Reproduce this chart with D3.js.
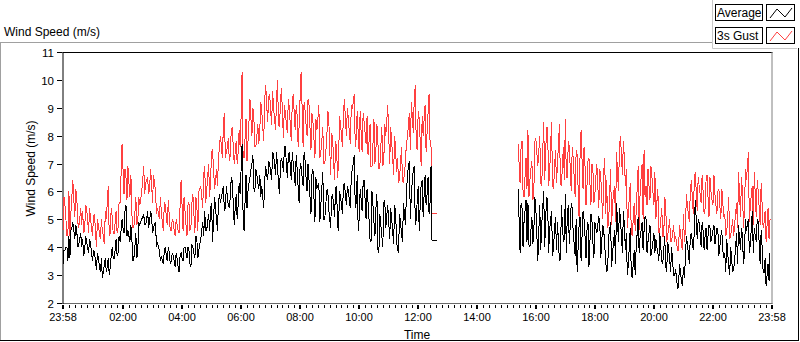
<!DOCTYPE html>
<html><head><meta charset="utf-8">
<script src="https://cdn.jsdelivr.net/npm/d3@7"></script>
<style>body{margin:0;background:#fff}svg{display:block}text{font-family:"Liberation Sans",Arial,sans-serif;fill:#000}</style>
</head><body><svg id="c" width="800" height="342"></svg>
<script>
// ---- data (minutes after 23:58, sampled every 2 min) ----
const stepMin = 2;
const seg1Start = 0;
const tailStart = 750;
const seg2Start = 925;
const gustSeg1 = [
 4.6,5.8,5.5,5.0,4.4,4.5,6.0,4.4,5.2,5.8, 6.4,5.7,5.1,6.1,5.8,4.9,4.7,5.0,5.4,4.8,
 5.3,4.5,4.6,5.5,5.4,5.0,4.5,5.4,5.0,4.7, 4.4,5.1,5.2,4.6,4.0,5.0,4.8,4.5,4.3,5.0,
 4.6,4.4,4.1,5.3,5.0,5.6,6.2,4.4,4.5,5.4, 5.1,4.5,4.5,4.9,5.3,4.5,4.7,5.6,5.6,6.6,
 7.7,6.8,5.9,6.8,6.5,5.7,6.9,6.3,5.8,6.6, 5.2,4.7,4.7,5.2,5.8,4.8,4.9,5.8,5.5,5.7,
 6.0,6.4,6.9,5.9,6.3,6.4,6.5,5.9,6.1,6.8, 6.3,5.6,6.6,6.3,6.0,5.2,5.4,5.2,5.0,5.8,
 5.2,4.9,4.6,5.6,5.5,5.1,4.8,5.7,5.1,4.6, 4.6,5.0,4.9,4.6,4.4,5.0,4.8,4.6,4.5,5.5,
 6.4,5.5,4.6,5.8,5.3,4.8,4.4,5.5,5.6,4.6, 4.7,5.6,5.9,5.2,4.5,5.8,5.5,4.6,6.0,6.1,
 6.2,5.8,5.4,6.6,6.9,5.6,6.0,6.5,7.0,5.8, 6.4,7.4,7.5,6.8,6.1,6.4,6.8,6.2,7.2,7.6,
 8.0,7.6,7.2,8.4,8.8,7.2,7.4,7.6,7.9,7.1, 7.3,8.2,8.3,7.6,7.0,7.4,7.8,7.0,7.4,8.2,
 7.6,8.7,10.3,7.3,7.2,7.9,8.6,7.1,7.8,8.5, 9.3,8.6,8.0,9.0,8.6,7.6,7.6,8.0,8.4,7.7,
 8.2,9.2,8.9,8.3,7.8,9.3,9.8,9.1,8.5,9.4, 9.5,8.9,8.4,9.6,9.0,8.6,8.2,9.3,10.0,8.4,
 8.3,9.2,9.7,8.8,7.9,9.1,8.8,8.4,8.1,9.3, 9.0,8.4,7.8,9.2,9.5,8.8,8.2,9.1,8.7,7.6,
 8.4,9.4,10.3,9.0,7.6,9.2,8.9,8.4,8.0,9.3, 9.1,8.3,7.5,8.8,8.5,7.9,7.2,8.6,8.2,8.6,
 9.1,7.2,7.4,7.8,8.3,7.0,7.0,7.4,7.8,8.9, 8.7,7.6,6.6,8.1,7.9,7.1,6.4,7.8,7.6,6.5,
 7.0,8.7,8.4,8.0,7.6,8.8,9.3,8.6,8.0,9.0, 8.6,8.1,7.7,9.1,9.0,9.2,9.5,7.6,7.9,8.9,
 8.1,7.4,8.9,8.1,7.4,8.8,8.5,8.1,7.7,8.7, 7.3,7.8,8.4,6.9,6.9,7.7,8.6,7.0,7.5,8.4,
 7.8,6.8,6.9,7.6,8.3,6.9,7.1,8.4,8.0,8.5, 9.1,8.0,7.0,8.3,7.8,7.2,6.6,8.0,7.5,6.7,
 7.2,6.3,6.5,7.0,7.6,6.4,6.3,6.7,7.0,7.8, 7.9,8.4,8.8,7.5,9.2,8.7,8.1,9.4,9.8,7.6,
 7.5,8.9,8.6,7.8,6.9,8.7,8.0,8.6,9.1,7.4, 8.1,8.8,9.5,7.8,7.6];
const avgSeg1 = [
 3.4,3.9,3.9,4.0,4.0,3.5,4.4,3.6,4.6,4.7, 4.9,4.6,4.3,4.8,4.6,4.0,4.1,4.3,4.5,4.0,
 4.3,3.7,3.9,4.4,4.2,4.0,3.8,4.3,4.1,3.8, 3.5,3.9,3.8,3.5,3.2,3.8,3.6,3.3,3.1,3.6,
 2.9,3.1,3.4,3.6,3.1,3.3,3.6,3.0,3.3,3.7, 4.0,3.6,3.6,3.9,4.3,3.7,3.8,4.4,4.2,4.6,
 5.0,4.7,4.5,5.3,5.5,4.4,4.6,4.4,4.2,4.8, 4.3,3.5,3.6,4.0,4.5,3.6,3.9,4.9,4.8,4.9,
 5.0,5.1,5.2,4.8,4.8,5.0,5.3,4.7,4.9,5.3, 5.1,4.5,4.7,4.8,4.9,4.0,4.2,4.0,3.9,3.5,
 3.7,3.5,3.4,3.9,4.0,3.7,3.5,4.0,3.8,3.4, 3.5,3.8,3.7,3.5,3.3,3.8,3.6,3.3,3.1,3.7,
 3.8,3.6,3.5,4.0,4.0,3.8,3.6,4.0,3.9,3.4, 3.3,4.1,4.0,3.8,3.6,4.4,4.3,3.6,3.9,4.1,
 4.3,4.6,4.9,4.4,5.3,4.6,4.6,4.9,5.2,4.6, 5.4,5.6,4.2,5.0,5.8,5.4,5.0,4.6,5.6,5.9,
 5.6,5.8,6.0,6.2,5.3,5.4,6.2,5.8,5.5,5.4, 5.8,6.5,6.4,5.6,4.8,5.4,5.9,5.0,5.5,6.3,
 5.9,6.8,7.7,5.2,4.6,5.6,6.6,5.4,6.0,6.3, 6.5,6.8,7.0,7.3,6.1,6.0,6.8,6.6,6.3,6.1,
 6.6,5.8,6.2,5.8,5.4,6.4,6.9,6.6,6.4,7.1, 7.0,6.7,6.4,7.4,7.3,7.0,6.6,7.4,6.9,6.3,
 5.9,7.0,7.2,7.0,6.7,7.6,7.6,7.0,6.5,7.3, 7.4,6.9,6.4,7.4,7.0,6.6,6.2,7.3,6.8,6.1,
 5.6,7.0,6.9,6.5,6.2,7.4,7.1,6.5,6.0,7.0, 6.4,5.8,5.2,6.6,6.8,5.8,4.9,6.5,6.1,6.2,
 6.3,4.9,5.5,6.1,6.7,5.0,5.0,5.5,6.0,6.1, 5.4,5.0,4.7,5.8,5.9,5.5,5.1,6.1,6.2,4.8,
 4.6,6.0,5.8,5.5,5.2,6.2,6.3,5.9,5.5,6.2, 6.0,5.7,5.4,6.6,6.8,7.0,7.3,5.4,5.6,6.6,
 4.6,5.0,6.1,5.7,5.3,6.3,6.4,5.7,5.0,6.1, 5.6,5.0,4.3,4.2,6.0,5.5,4.9,4.4,5.4,5.9,
 3.9,3.8,5.2,4.8,4.4,4.0,5.6,5.7,4.7,5.1, 5.5,4.9,4.3,5.4,5.0,4.6,4.1,5.5,5.3,4.2,
 3.9,3.8,5.2,4.9,4.5,4.2,5.6,5.2,4.8,5.9, 6.6,6.9,7.1,5.0,5.9,6.4,6.8,6.9,4.8,5.0,
 5.7,6.2,4.6,5.5,6.3,6.4,5.1,5.9,6.6,5.5, 5.9,6.5,5.2,5.6,6.9];
const gustTail = [5.22,5.22,5.22,5.22,5.22,5.22];
const avgTail = [4.25,4.25,4.25,4.25,4.25,4.25];
const gustSeg2 = [
 7.7,7.0,6.3,7.6,7.8,6.0,5.8,6.5,7.2,6.1, 8.2,5.8,6.4,6.8,7.1,5.7,6.0,7.8,7.9,7.4,
 6.9,7.4,8.0,6.3,6.2,7.4,8.5,6.4,7.4,8.3, 8.3,6.2,6.6,7.6,8.5,6.2,6.1,6.8,7.5,6.3,
 7.0,7.7,8.4,6.3,6.2,6.9,7.6,6.4,8.6,6.5, 6.5,7.8,7.6,6.8,6.0,7.6,7.2,6.5,5.8,7.5,
 7.3,6.1,5.0,7.4,8.2,7.1,6.1,7.6,6.9,5.5, 6.2,7.1,7.2,6.3,5.5,7.0,6.8,5.6,5.9,6.5,
 7.0,6.2,5.4,6.8,6.5,5.8,5.0,6.7,7.2,5.2, 6.4,4.7,4.9,5.9,6.8,4.8,5.6,5.9,6.2,4.9,
 7.4,6.7,6.0,7.6,8.0,7.3,6.6,7.8,7.2,6.2, 6.8,4.7,5.2,5.8,6.3,4.5,4.4,5.0,5.6,4.6,
 5.3,6.1,6.9,4.6,6.0,6.5,7.0,5.0,7.5,5.8, 6.2,5.5,6.8,6.2,5.7,6.9,6.5,6.0,5.5,6.7,
 5.0,5.6,6.1,4.5,4.6,5.0,5.4,4.4,4.4,5.8, 5.5,4.2,4.4,4.7,5.0,4.2,4.2,4.5,4.8,4.2,
 4.4,4.2,3.9,3.9,4.8,4.5,4.1,3.9,5.2,4.2, 4.6,5.9,5.5,5.2,4.9,6.0,6.4,5.8,5.2,6.3,
 6.7,6.0,5.3,6.5,6.2,5.9,5.6,6.6,6.0,5.2, 5.4,6.4,6.6,5.8,5.1,6.5,6.0,5.7,5.5,6.6,
 5.9,5.5,5.2,6.0,6.1,5.5,5.0,6.1,5.6,5.1, 5.2,4.4,4.5,5.1,5.8,4.3,4.4,4.7,5.0,4.4,
 4.8,5.2,5.6,4.7,6.7,5.9,5.1,6.5,6.0,4.7, 5.3,6.8,6.4,6.9,7.4,4.9,5.5,5.9,6.2,4.8,
 6.7,5.9,5.1,6.4,6.0,5.4,4.8,6.3,5.5,4.7, 4.9,5.3,4.2,4.8,5.4,4.3,5.0];
const avgSeg2 = [
 6.1,5.0,3.8,5.6,5.4,4.0,4.9,5.3,5.7,4.2, 5.6,4.1,4.0,4.6,5.1,4.1,4.6,5.8,5.4,4.5,
 3.5,4.5,5.5,3.9,4.8,5.4,6.0,4.0,5.0,5.8, 5.7,3.8,4.6,5.0,5.3,3.7,4.0,4.6,5.1,3.9,
 4.9,4.2,3.5,3.6,5.5,4.8,4.2,4.3,5.9,3.8, 5.2,5.5,4.1,4.8,5.6,5.4,4.5,4.1,3.7,5.0,
 3.1,4.0,4.8,5.1,3.5,4.4,5.3,5.0,4.4,3.6, 4.6,4.9,3.3,4.2,5.2,5.0,4.2,3.6,4.9,4.7,
 4.5,4.8,5.1,4.9,3.6,4.2,4.8,4.6,4.1,3.5, 3.1,3.2,4.4,4.6,4.9,3.3,3.8,4.2,4.6,3.4,
 5.6,4.9,4.2,5.4,5.0,4.4,3.8,5.3,4.8,3.9, 4.5,3.0,3.4,4.0,4.7,3.1,2.9,3.4,3.9,3.0,
 4.0,4.5,5.1,3.8,4.4,4.6,4.9,3.9,4.6,5.1, 5.0,3.8,4.2,4.5,4.8,3.7,3.9,4.2,4.5,3.8,
 4.3,4.0,3.8,3.5,4.5,4.0,3.5,3.4,3.9,4.4, 3.3,3.1,4.2,3.9,3.6,3.1,4.0,3.5,3.0,3.0,
 3.2,2.9,2.5,2.6,3.4,3.1,2.8,2.6,3.3,2.9, 3.6,4.4,4.1,3.8,3.4,4.4,4.5,4.2,3.9,4.5,
 5.7,5.0,4.3,5.0,4.9,4.5,4.0,4.9,4.6,3.9, 4.4,4.7,3.9,4.4,4.8,4.7,4.2,4.4,4.6,4.8,
 4.1,4.4,4.7,4.6,3.7,4.0,4.4,4.6,3.9,3.6, 3.8,3.1,4.3,3.8,3.3,3.0,4.0,3.6,3.1,3.2,
 3.5,4.0,4.5,3.4,4.8,4.3,3.9,4.7,4.4,3.4, 3.7,5.0,4.6,4.8,5.0,3.8,4.1,4.7,5.3,3.8,
 4.7,4.4,4.2,5.0,4.9,4.1,3.4,4.6,4.0,3.1, 3.1,3.6,2.6,3.0,3.4,2.8,3.8];
const tickMinutes = [0,122,242,362,482,602,722,842,962,1082,1202,1322,1440];
const tickLabels = ["23:58","02:00","04:00","06:00","08:00","10:00","12:00","14:00","16:00","18:00","20:00","22:00","23:58"];
const yTicks = [2,3,4,5,6,7,8,9,10,11];
const seriesNames = ["Average","3s Gust"];
const seriesColors = ["#000000","#ff4040"];

// ---- build ----
function build(s1, tail, s2){
  const pts = [];
  s1.forEach((v,i)=>pts.push({t:seg1Start+i*stepMin,v}));
  tail.forEach((v,i)=>pts.push({t:tailStart+i*stepMin,v}));
  pts.push({t:(tailStart+seg2Start)/2,v:NaN});
  s2.forEach((v,i)=>pts.push({t:seg2Start+i*stepMin,v}));
  return pts;
}
const gust = build(gustSeg1,gustTail,gustSeg2);
const avg = build(avgSeg1,avgTail,avgSeg2);

const svg = d3.select("#c");
const L=62.5, R=771.5, T=52, B=303;
const x = d3.scaleLinear().domain([0,1440]).range([L+0.5,R]);
const y = d3.scaleLinear().domain([2,11]).range([B,T]);

// outer panel
svg.append("line").attr("x1",0).attr("x2",712).attr("y1",42.5).attr("y2",42.5).attr("stroke","#a0a0a0");
svg.append("line").attr("x1",0.5).attr("x2",0.5).attr("y1",42).attr("y2",341).attr("stroke","#a0a0a0");
svg.append("line").attr("x1",0).attr("x2",799).attr("y1",340.5).attr("y2",340.5).attr("stroke","#000");
svg.append("line").attr("x1",798.5).attr("x2",798.5).attr("y1",48).attr("y2",341).attr("stroke","#000");
svg.append("text").attr("x",4).attr("y",36).attr("font-size",12).text("Wind Speed (m/s)");

// legend panel
svg.append("path").attr("d","M712.5,0V48.5H797").attr("fill","none").attr("stroke","#c8c8c8");
seriesNames.forEach((n,i)=>{
  const y0 = 4 + i*23;
  const g = svg.append("g");
  g.append("rect").attr("x",715.5).attr("y",y0+0.5).attr("width",47).attr("height",16).attr("fill","#fff").attr("stroke","#000");
  g.append("text").attr("x",717).attr("y",y0+13).attr("font-size",12).text(n);
  g.append("rect").attr("x",766.5).attr("y",y0+0.5).attr("width",28).attr("height",16).attr("fill","#fff").attr("stroke","#000");
  g.append("path").attr("d",`M770,${y0+14}L777,${y0+5}L785,${y0+13}L792,${y0+4}`).attr("fill","none").attr("stroke",seriesColors[i]).attr("stroke-width",1);
});

// plot frame
svg.append("line").attr("x1",L).attr("x2",R+1).attr("y1",T+0.5).attr("y2",T+0.5).attr("stroke","#000");
svg.append("line").attr("x1",R+0.5).attr("x2",R+0.5).attr("y1",T).attr("y2",B+1).attr("stroke","#808080");
svg.append("line").attr("x1",L).attr("x2",R+1).attr("y1",B+0.5).attr("y2",B+0.5).attr("stroke","#6a6a6a");
svg.append("line").attr("x1",L+0.5).attr("x2",L+0.5).attr("y1",T).attr("y2",B+1).attr("stroke","#000");

// y ticks
yTicks.forEach(v=>{
  const yy = Math.round(y(v))+0.5;
  svg.append("line").attr("x1",57).attr("x2",62).attr("y1",yy).attr("y2",yy).attr("stroke","#000");
  svg.append("text").attr("x",54).attr("y",yy+4).attr("text-anchor","end").attr("font-size",11.5).text(v);
});
svg.append("text").attr("transform","translate(35,168.5) rotate(-90)").attr("text-anchor","middle").attr("font-size",12).text("Wind Speed (m/s)");

// x ticks
tickMinutes.forEach((m,i)=>{
  const xx = Math.round(x(m));
  svg.append("rect").attr("x",xx-1).attr("y",B+2).attr("width",2).attr("height",4).attr("fill","#000");
  svg.append("text").attr("x",xx).attr("y",321).attr("text-anchor","middle").attr("font-size",11).text(tickLabels[i]);
  if(i<tickMinutes.length-1){
    const m2 = tickMinutes[i+1];
    for(let k=1;k<10;k++){
      const xm = Math.round(x(m+(m2-m)*k/10))+0.5;
      svg.append("line").attr("x1",xm).attr("x2",xm).attr("y1",B+2).attr("y2",B+5).attr("stroke","#000");
    }
  }
});
svg.append("text").attr("x",417).attr("y",339).attr("text-anchor","middle").attr("font-size",12).text("Time");

// series
const line = d3.line().defined(d=>!isNaN(d.v)).x(d=>x(d.t)).y(d=>y(d.v));
svg.append("path").datum(gust).attr("d",line).attr("fill","none").attr("stroke",seriesColors[1]).attr("stroke-width",1).attr("shape-rendering","crispEdges");
svg.append("path").datum(avg).attr("d",line).attr("fill","none").attr("stroke",seriesColors[0]).attr("stroke-width",1).attr("shape-rendering","crispEdges");
</script></body></html>
